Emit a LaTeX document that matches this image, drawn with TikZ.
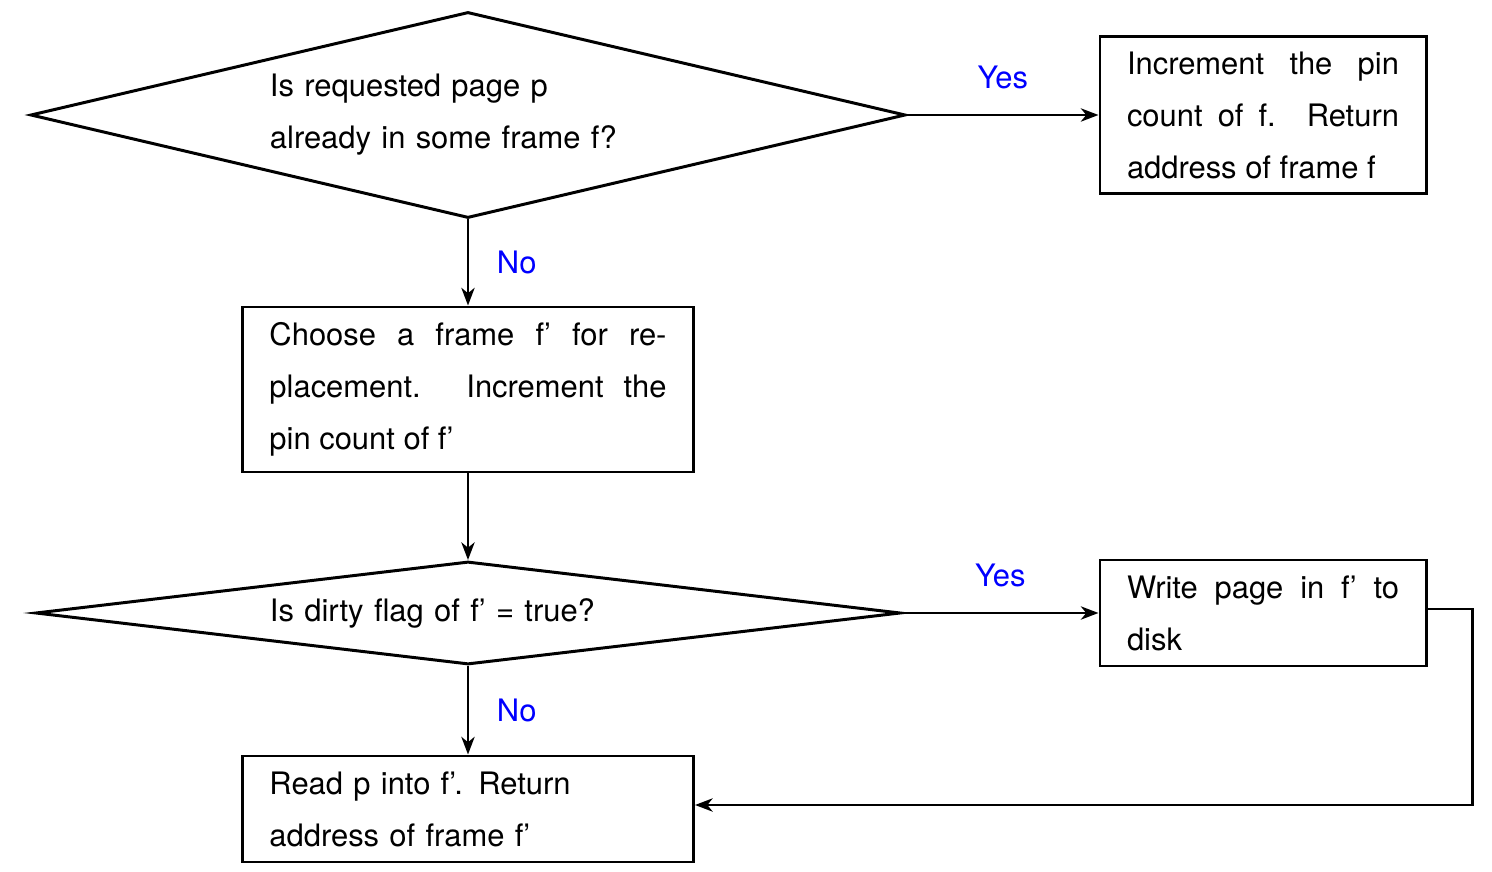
\documentclass[tikz,border=0pt]{standalone}
\usepackage{fontspec}
\setmainfont{TeX Gyre Heros}
\usepackage{xcolor}
\usepackage{tikz}
\usetikzlibrary{shapes.geometric,arrows.meta}

\begin{document}
\begin{tikzpicture}[node distance=4.47cm, auto, every node/.style={font=\fontsize{17.6}{29.6}\selectfont},
    decision/.style={draw, diamond, line width=1.7pt, inner sep=0pt, text width=7.92cm, align=left},
    process/.style={draw, rectangle, line width=1.7pt, inner xsep=0.54cm, align=justify},
    flow/.style={line width=1.7pt, -{Stealth[length=10pt, width=7.5pt, inset=3pt]}},
    answer/.style={text=blue, inner sep=0.2cm}]
    \useasboundingbox (-9.36,2.30) rectangle (20.48,-15.14);

    % Page lookup
    \node[decision, aspect=4.26, minimum width=17.5cm, minimum height=4.12cm] (lookup) {Is requested page p\\ already in some frame f?};
    \node[process, node distance=15.9cm, right of=lookup, text width=5.44cm, minimum width=6.52cm, minimum height=3.14cm] (pin) {Increment the pin count of f. Return address of frame f};
    \draw[flow] (lookup.east) -- node[answer, above=0.3cm] {Yes} (pin.west);

    % Replacement
    \node[process, node distance=5.49cm, below of=lookup, text width=7.94cm, minimum width=9.02cm, minimum height=3.3cm] (choose) {Choose a frame f' for re\-placement. Increment the\linebreak pin count of f'};
    \draw[flow] (lookup.south) -- node[answer, right=0.35cm] {No} (choose.north);

    % Dirty flag
    \node[decision, below of=choose, aspect=8.4, minimum width=17.3cm, minimum height=2.06cm] (dirty) {Is dirty flag of f' = true?};
    \draw[flow] (choose.south) -- (dirty.north);
    \node[process, node distance=15.9cm, right of=dirty, text width=5.44cm, minimum width=6.52cm, minimum height=2.12cm] (write) {Write page in f' to disk};
    \draw[flow] (dirty.east) -- node[answer, above=0.3cm] {Yes} (write.west);

    % Read page
    \node[process, node distance=3.92cm, below of=dirty, text width=7.94cm, minimum width=9.02cm, minimum height=2.12cm, align=left] (read) {Read p into f'. Return\\ address of frame f'};
    \draw[flow] (dirty.south) -- node[answer, right=0.35cm] {No} (read.north);
    \draw[flow] ([yshift=0.08cm]write.east) -- ++(0.9,0) |- ([yshift=0.08cm]read.east);
\end{tikzpicture}
\end{document}
